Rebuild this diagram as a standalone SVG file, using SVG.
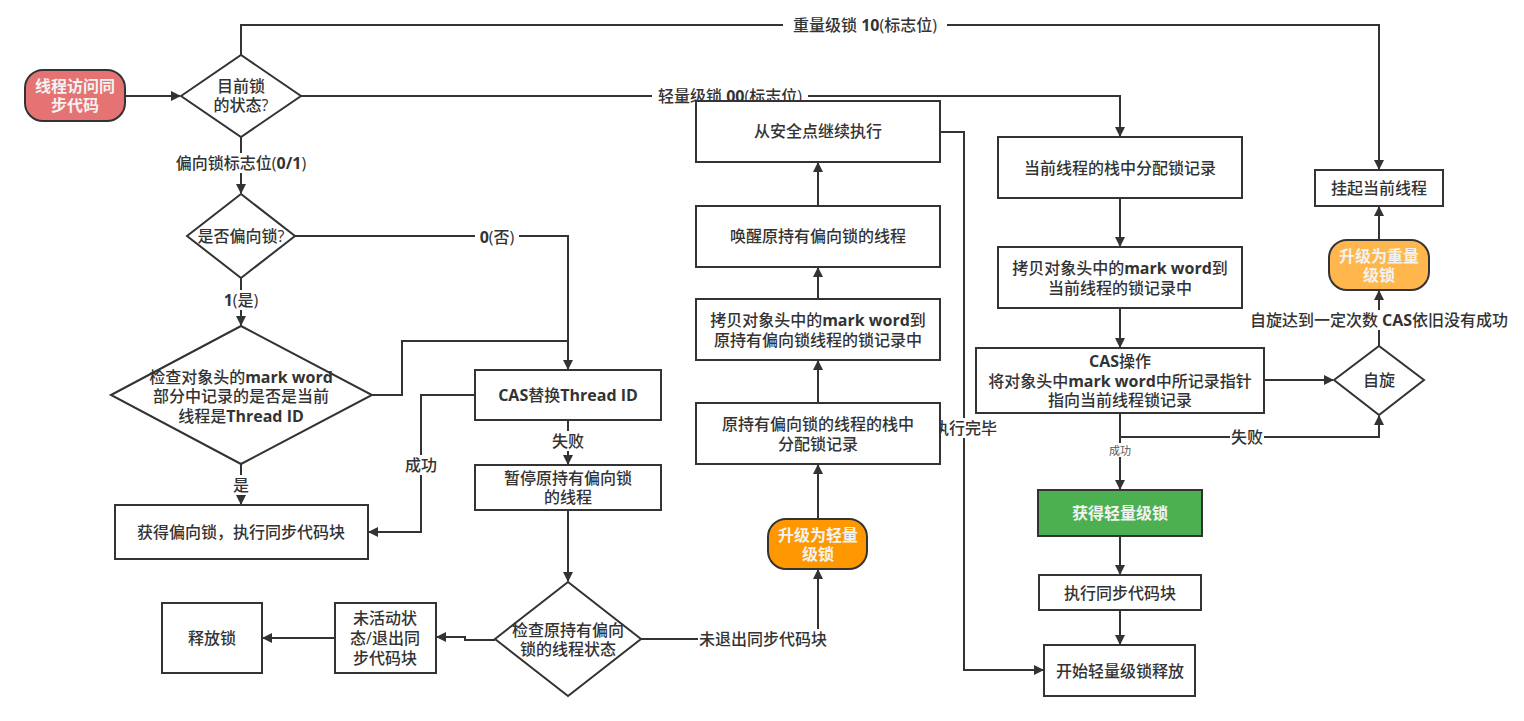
<svg xmlns="http://www.w3.org/2000/svg" width="1524" height="721" viewBox="0 0 1524 721">
<style>
.n{fill:#fff;stroke:#333;stroke-width:2}
.t{font-family:"Open Sans","Noto Sans CJK SC",sans-serif;font-size:16px;font-weight:500;fill:#333;text-anchor:middle;dominant-baseline:central}
.b{font-weight:bold}
.w{fill:#f2f2f2;font-weight:bold}
.c{fill:none;stroke:#333;stroke-width:2}
.lb{fill:#fff}
.s{font-size:11px;fill:#555;font-weight:normal}
</style>
<defs>
<marker id="a" markerWidth="10" markerHeight="10" refX="9" refY="5" orient="auto" markerUnits="userSpaceOnUse">
<path d="M0,0 L10,5 L0,10 Z" fill="#333"/>
</marker>
</defs>
<rect width="1524" height="721" fill="#fff"/>
<g id="connectors">
<path class="c" d="M125,96 H180" marker-end="url(#a)"/>
<path class="c" d="M241,55 V25 H1379 V169" marker-end="url(#a)"/>
<path class="c" d="M301,96 H1120 V136" marker-end="url(#a)"/>
<path class="c" d="M241,137 V193" marker-end="url(#a)"/>
<path class="c" d="M295,236 H568 V369" marker-end="url(#a)"/>
<path class="c" d="M241,278 V325" marker-end="url(#a)"/>
<path class="c" d="M372,395 H402 V341 H568"/>
<path class="c" d="M241,464 V504" marker-end="url(#a)"/>
<path class="c" d="M475,395 H421 V532 H369" marker-end="url(#a)"/>
<path class="c" d="M568,420 V464" marker-end="url(#a)"/>
<path class="c" d="M568,510 V581" marker-end="url(#a)"/>
<path class="c" d="M641,639 H818 V570" marker-end="url(#a)"/>
<path class="c" d="M818,519 V465" marker-end="url(#a)"/>
<path class="c" d="M818,403 V361" marker-end="url(#a)"/>
<path class="c" d="M818,299 V268" marker-end="url(#a)"/>
<path class="c" d="M818,206 V163" marker-end="url(#a)"/>
<path class="c" d="M940,132 H964 V670 H1043" marker-end="url(#a)"/>
<path class="c" d="M495,640 H465 V637 H437" marker-end="url(#a)"/>
<path class="c" d="M335,638 H263" marker-end="url(#a)"/>
<path class="c" d="M1120,198 V246" marker-end="url(#a)"/>
<path class="c" d="M1120,308 V347" marker-end="url(#a)"/>
<path class="c" d="M1264,380 H1333" marker-end="url(#a)"/>
<path class="c" d="M1120,413 V437 H1379 V416" marker-end="url(#a)"/>
<path class="c" d="M1120,437 V489" marker-end="url(#a)"/>
<path class="c" d="M1379,346 V291" marker-end="url(#a)"/>
<path class="c" d="M1379,240 V207" marker-end="url(#a)"/>
<path class="c" d="M1120,536 V574" marker-end="url(#a)"/>
<path class="c" d="M1120,610 V644" marker-end="url(#a)"/>
<rect class="lb" x="783" y="15" width="164" height="20"/>
<text class="t" x="865" y="25">重量级锁 <tspan class="b">10</tspan>(标志位)</text>
<rect class="lb" x="652" y="86" width="156" height="14"/>
<text class="t" x="730" y="96">轻量级锁 <tspan class="b">00</tspan>(标志位)</text>
<rect class="lb" x="168" y="153" width="146" height="20"/>
<text class="t" x="241" y="163">偏向锁标志位(<tspan class="b">0/1</tspan>)</text>
<rect class="lb" x="475" y="227" width="44" height="20"/>
<text class="t" x="497" y="237"><tspan class="b">0</tspan>(否)</text>
<rect class="lb" x="219" y="290" width="44" height="20"/>
<text class="t" x="241" y="300"><tspan class="b">1</tspan>(是)</text>
<rect class="lb" x="230" y="475" width="22" height="20"/>
<text class="t" x="241" y="485">是</text>
<rect class="lb" x="404" y="455" width="34" height="20"/>
<text class="t" x="421" y="465">成功</text>
<rect class="lb" x="551" y="431" width="34" height="20"/>
<text class="t" x="568" y="441">失败</text>
<rect class="lb" x="698" y="629" width="130" height="20"/>
<text class="t" x="763" y="639">未退出同步代码块</text>
<rect class="lb" x="932" y="418" width="66" height="20"/>
<text class="t" x="965" y="428">执行完毕</text>
<rect class="lb" x="1230" y="427" width="34" height="20"/>
<text class="t" x="1247" y="437">失败</text>
<rect class="lb" x="1107" y="443" width="26" height="14"/>
<text class="t s" x="1120" y="450">成功</text>
<rect class="lb" x="1246" y="310" width="266" height="20"/>
<text class="t" x="1379" y="320">自旋达到一定次数 <tspan class="b">CAS</tspan>依旧没有成功</text>
</g>
<g id="start">
<rect x="25" y="70" width="100" height="51" rx="18" fill="#E57373" stroke="#333" stroke-width="2"/>
<text class="t w" x="75" y="86">线程访问同</text>
<text class="t w" x="75" y="105">步代码</text>
</g>
<g id="d-state">
<path class="n" d="M181,96 L241,55 L301,96 L241,137 Z"/>
<text class="t" x="241" y="86">目前锁</text>
<text class="t" x="241" y="105">的状态?</text>
</g>
<g id="d-biased">
<path class="n" d="M187,236 L241,194 L295,236 L241,278 Z"/>
<text class="t" x="241" y="236">是否偏向锁?</text>
</g>
<g id="d-check">
<path class="n" d="M111,395 L241,326 L372,395 L241,464 Z"/>
<text class="t" x="241" y="377">检查对象头的<tspan class="b">mark word</tspan></text>
<text class="t" x="241" y="396">部分中记录的是否是当前</text>
<text class="t" x="241" y="416">线程是<tspan class="b">Thread ID</tspan></text>
</g>
<g id="get-biased">
<rect class="n" x="115" y="505" width="253" height="54"/>
<text class="t" x="241" y="532">获得偏向锁，执行同步代码块</text>
</g>
<g id="cas-replace">
<rect class="n" x="475" y="370" width="186" height="50"/>
<text class="t" x="568" y="395"><tspan class="b">CAS</tspan>替换<tspan class="b">Thread ID</tspan></text>
</g>
<g id="pause">
<rect class="n" x="475" y="465" width="186" height="45"/>
<text class="t" x="568" y="478">暂停原持有偏向锁</text>
<text class="t" x="568" y="497">的线程</text>
</g>
<g id="d-thread-state">
<path class="n" d="M495,639 L568,582 L641,639 L568,696 Z"/>
<text class="t" x="568" y="630">检查原持有偏向</text>
<text class="t" x="568" y="649">锁的线程状态</text>
</g>
<g id="inactive">
<rect class="n" x="335" y="603" width="101" height="70"/>
<text class="t" x="385" y="618">未活动状</text>
<text class="t" x="385" y="638">态/退出同</text>
<text class="t" x="385" y="658">步代码块</text>
</g>
<g id="release">
<rect class="n" x="162" y="603" width="100" height="70"/>
<text class="t" x="212" y="638">释放锁</text>
</g>
<g id="upgrade-light">
<rect x="768" y="519" width="99" height="50" rx="18" fill="#FF9800" stroke="#333" stroke-width="2"/>
<text class="t w" x="818" y="535">升级为轻量</text>
<text class="t w" x="818" y="554">级锁</text>
</g>
<g id="alloc-old">
<rect class="n" x="696" y="403" width="244" height="61"/>
<text class="t" x="818" y="424">原持有偏向锁的线程的栈中</text>
<text class="t" x="818" y="444">分配锁记录</text>
</g>
<g id="copy-old">
<rect class="n" x="696" y="299" width="244" height="61"/>
<text class="t" x="818" y="320">拷贝对象头中的<tspan class="b">mark word</tspan>到</text>
<text class="t" x="818" y="340">原持有偏向锁线程的锁记录中</text>
</g>
<g id="wake">
<rect class="n" x="696" y="206" width="244" height="61"/>
<text class="t" x="818" y="236">唤醒原持有偏向锁的线程</text>
</g>
<g id="resume">
<rect class="n" x="696" y="101" width="244" height="61"/>
<text class="t" x="818" y="131">从安全点继续执行</text>
</g>
<g id="alloc-cur">
<rect class="n" x="998" y="137" width="244" height="61"/>
<text class="t" x="1120" y="168">当前线程的栈中分配锁记录</text>
</g>
<g id="copy-cur">
<rect class="n" x="998" y="247" width="244" height="61"/>
<text class="t" x="1120" y="268">拷贝对象头中的<tspan class="b">mark word</tspan>到</text>
<text class="t" x="1120" y="288">当前线程的锁记录中</text>
</g>
<g id="cas-op">
<rect class="n" x="976" y="348" width="288" height="65"/>
<text class="t" x="1120" y="361"><tspan class="b">CAS</tspan>操作</text>
<text class="t" x="1120" y="381">将对象头中<tspan class="b">mark word</tspan>中所记录指针</text>
<text class="t" x="1120" y="400">指向当前线程锁记录</text>
</g>
<g id="d-spin">
<path class="n" d="M1334,380 L1379,346 L1424,380 L1379,415 Z"/>
<text class="t" x="1379" y="380">自旋</text>
</g>
<g id="upgrade-heavy">
<rect x="1329" y="240" width="100" height="50" rx="18" fill="#FFB74D" stroke="#333" stroke-width="2"/>
<text class="t w" x="1379" y="256">升级为重量</text>
<text class="t w" x="1379" y="275">级锁</text>
</g>
<g id="suspend">
<rect class="n" x="1315" y="170" width="128" height="36"/>
<text class="t" x="1379" y="188">挂起当前线程</text>
</g>
<g id="get-light">
<rect x="1038" y="490" width="164" height="46" fill="#4CAF50" stroke="#333" stroke-width="2"/>
<text class="t w" x="1120" y="513">获得轻量级锁</text>
</g>
<g id="exec-sync">
<rect class="n" x="1039" y="575" width="162" height="35"/>
<text class="t" x="1120" y="593">执行同步代码块</text>
</g>
<g id="release-light">
<rect class="n" x="1044" y="645" width="151" height="51"/>
<text class="t" x="1120" y="671">开始轻量级锁释放</text>
</g>
</svg>
